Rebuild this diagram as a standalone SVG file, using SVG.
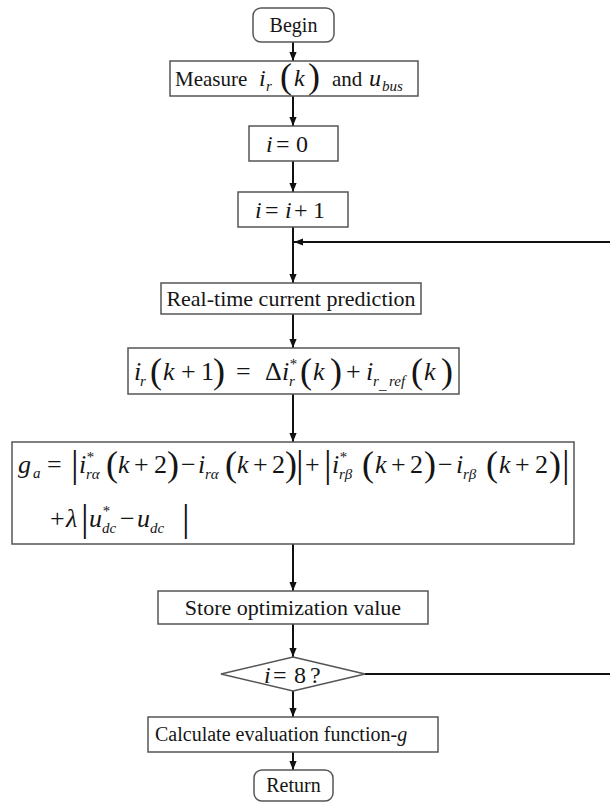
<svg xmlns="http://www.w3.org/2000/svg" width="610" height="803" viewBox="0 0 610 803">
<style>
.box{fill:#fff;stroke:#555;stroke-width:1.5}
.edge{fill:none;stroke:#111;stroke-width:2}
.arr{marker-end:url(#ah)}
.t{font-family:'Liberation Serif','DejaVu Serif','Times New Roman',serif;fill:#151515}
.i{font-style:italic}
.f20{font-size:20px}
.f21{font-size:21px}
.f22{font-size:22px}
.f24{font-size:24px}
.f26{font-size:26px}
.sub{font-size:15px;font-style:italic}
.p{font-size:36px}
.bar{font-size:38px}
</style>
<defs>
<marker id="ah" viewBox="0 0 10 8" refX="10" refY="4" markerWidth="9" markerHeight="8" markerUnits="userSpaceOnUse" orient="auto">
<path d="M0,0 L10,4 L0,8 z" fill="#111"/>
</marker>
</defs>
<rect width="610" height="803" fill="#fff"/>

<g id="connectors">
<line class="edge arr" x1="293" y1="42" x2="293" y2="61"/>
<line class="edge arr" x1="293" y1="96" x2="293" y2="126"/>
<line class="edge arr" x1="293" y1="161" x2="293" y2="192"/>
<line class="edge arr" x1="293" y1="227" x2="293" y2="283"/>
<line class="edge arr" x1="610" y1="242" x2="294" y2="242"/>
<line class="edge arr" x1="293" y1="314" x2="293" y2="348"/>
<line class="edge arr" x1="293" y1="394" x2="293" y2="442"/>
<line class="edge arr" x1="293" y1="544" x2="293" y2="591"/>
<line class="edge arr" x1="293" y1="624" x2="293" y2="657"/>
<line class="edge" x1="365" y1="674" x2="610" y2="674"/>
<line class="edge arr" x1="293" y1="691" x2="293" y2="717"/>
<line class="edge arr" x1="293" y1="752" x2="293" y2="770"/>
</g>

<g id="begin">
<rect class="box" x="253" y="8" width="81" height="34" rx="8"/>
<text class="t f20" x="293.5" y="32" text-anchor="middle">Begin</text>
</g>

<g id="measure">
<rect class="box" x="170" y="61" width="248" height="35"/>
<text class="t f21"><tspan x="175" y="86">Measure</tspan><tspan class="i f24" x="259" y="86">i</tspan><tspan class="sub" x="266" y="91">r</tspan><tspan class="p" x="280" y="88">(</tspan><tspan class="i f24" x="294" y="86">k</tspan><tspan class="p" x="308" y="88">)</tspan><tspan x="332" y="86">and</tspan><tspan class="i f24" x="369" y="86">u</tspan><tspan class="sub" x="382" y="91">bus</tspan></text>
</g>

<g id="init">
<rect class="box" x="249" y="126" width="89" height="35"/>
<text class="t f24"><tspan class="i" x="266" y="152">i</tspan><tspan x="276" y="152">=</tspan><tspan x="296" y="152">0</tspan></text>
</g>

<g id="incr">
<rect class="box" x="238" y="192" width="110" height="35"/>
<text class="t f24"><tspan class="i" x="255" y="218">i</tspan><tspan x="265" y="218">=</tspan><tspan class="i" x="285" y="218">i</tspan><tspan x="294" y="218">+</tspan><tspan x="313" y="218">1</tspan></text>
</g>

<g id="predict">
<rect class="box" x="161" y="283" width="260" height="31"/>
<text class="t f22" x="291" y="306" text-anchor="middle">Real-time current prediction</text>
</g>

<g id="formula">
<rect class="box" x="128" y="348" width="331" height="46"/>
<text class="t f26"><tspan class="i" x="134" y="380">i</tspan><tspan class="sub" x="140" y="386">r</tspan><tspan class="p" x="150" y="383">(</tspan><tspan class="i" x="163" y="380">k</tspan><tspan x="181" y="380">+</tspan><tspan x="201" y="380">1</tspan><tspan class="p" x="213" y="383">)</tspan><tspan x="236" y="380">=</tspan><tspan x="265" y="380">Δ</tspan><tspan class="i" x="282" y="380">i</tspan><tspan class="sub" x="289" y="369">*</tspan><tspan class="sub" x="289" y="386">r</tspan><tspan class="p" x="300" y="383">(</tspan><tspan class="i" x="313" y="380">k</tspan><tspan class="p" x="330" y="383">)</tspan><tspan x="346" y="380">+</tspan><tspan class="i" x="366" y="380">i</tspan><tspan class="sub" x="373" y="386">r</tspan><tspan class="sub" x="379" y="389">_</tspan><tspan class="sub" x="389" y="386">ref</tspan><tspan class="p" x="411" y="383">(</tspan><tspan class="i" x="424" y="380">k</tspan><tspan class="p" x="441" y="383">)</tspan></text>
</g>

<g id="cost">
<rect class="box" x="12" y="442" width="562" height="102"/>
<text class="t f26"><tspan class="i" x="18" y="473">g</tspan><tspan class="sub" x="33" y="478">a</tspan><tspan x="47" y="473">=</tspan><tspan class="bar" x="71" y="477">|</tspan><tspan class="i" x="79" y="473">i</tspan><tspan class="sub" x="86" y="462">*</tspan><tspan class="sub" x="86" y="479">rα</tspan><tspan class="p" x="106" y="476">(</tspan><tspan class="i" x="118" y="473">k</tspan><tspan x="134" y="473">+</tspan><tspan x="154" y="473">2</tspan><tspan class="p" x="167" y="476">)</tspan><tspan x="181" y="473">−</tspan><tspan class="i" x="198" y="473">i</tspan><tspan class="sub" x="205" y="479">rα</tspan><tspan class="p" x="225" y="476">(</tspan><tspan class="i" x="237" y="473">k</tspan><tspan x="253" y="473">+</tspan><tspan x="272" y="473">2</tspan><tspan class="p" x="285" y="476">)</tspan><tspan class="bar" x="296" y="477">|</tspan><tspan x="305" y="473">+</tspan><tspan class="bar" x="324" y="477">|</tspan><tspan class="i" x="332" y="473">i</tspan><tspan class="sub" x="339" y="462">*</tspan><tspan class="sub" x="339" y="479">rβ</tspan><tspan class="p" x="362" y="476">(</tspan><tspan class="i" x="375" y="473">k</tspan><tspan x="391" y="473">+</tspan><tspan x="410" y="473">2</tspan><tspan class="p" x="424" y="476">)</tspan><tspan x="438" y="473">−</tspan><tspan class="i" x="456" y="473">i</tspan><tspan class="sub" x="463" y="479">rβ</tspan><tspan class="p" x="486" y="476">(</tspan><tspan class="i" x="499" y="473">k</tspan><tspan x="515" y="473">+</tspan><tspan x="535" y="473">2</tspan><tspan class="p" x="549" y="476">)</tspan><tspan class="bar" x="562" y="477">|</tspan></text>
<text class="t f26"><tspan x="50" y="527">+</tspan><tspan class="i" x="66" y="527">λ</tspan><tspan class="bar" x="81" y="531">|</tspan><tspan class="i" x="89" y="527">u</tspan><tspan class="sub" x="102" y="516">*</tspan><tspan class="sub" x="102" y="533">dc</tspan><tspan x="120" y="527">−</tspan><tspan class="i" x="137" y="527">u</tspan><tspan class="sub" x="150" y="533">dc</tspan><tspan class="bar" x="182" y="531">|</tspan></text>
</g>

<g id="store">
<rect class="box" x="158" y="591" width="270" height="33"/>
<text class="t f22" x="293" y="615" text-anchor="middle">Store optimization value</text>
</g>

<g id="decision">
<polygon class="box" points="293,657 365,674 293,691 221,674"/>
<text class="t f24"><tspan class="i" x="264" y="683">i</tspan><tspan x="273" y="683">=</tspan><tspan x="294" y="683">8</tspan><tspan x="310" y="683">?</tspan></text>
</g>

<g id="calc">
<rect class="box" x="148" y="717" width="290" height="35"/>
<text class="t f20"><tspan x="155" y="741">Calculate evaluation function-</tspan><tspan class="i">g</tspan></text>
</g>

<g id="return">
<rect class="box" x="254" y="770" width="79" height="31" rx="8"/>
<text class="t f20" x="293.5" y="792" text-anchor="middle">Return</text>
</g>
</svg>
